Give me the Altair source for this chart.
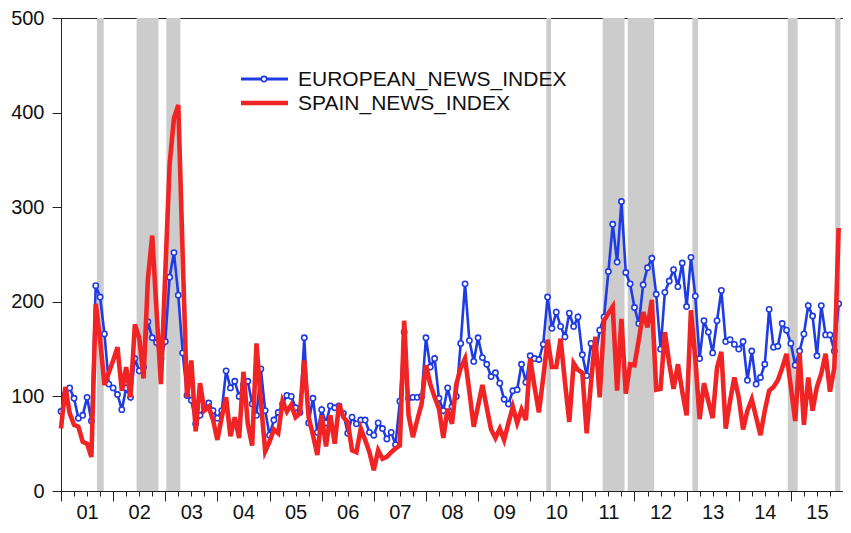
import json
import altair as alt
import pandas as pd

# ---------------- data (monthly, Jan 2001 .. Dec 2015) ----------------
start_year = 2001
series_names = ["EUROPEAN_NEWS_INDEX", "SPAIN_NEWS_INDEX"]

european = [
    84, 102, 109, 98, 77, 80, 99, 74, 217, 205, 166, 113,          # 2001
    109, 102, 86, 109, 99, 140, 127, 131, 179, 162, 157, 140,      # 2002
    158, 226, 252, 207, 146, 101, 96, 71, 80, 88, 93, 85,          # 2003
    77, 85, 127, 109, 116, 100, 112, 116, 92, 80, 129, 85,         # 2004
    59, 75, 83, 92, 101, 100, 88, 83, 162, 72, 98, 62,             # 2005
    86, 72, 90, 88, 90, 82, 61, 78, 71, 75, 75, 62,                # 2006
    59, 72, 66, 55, 62, 49, 95, 168, 98, 99, 99, 100,              # 2007
    162, 131, 140, 98, 85, 109, 89, 100, 156, 219, 159, 137,       # 2008
    162, 141, 134, 121, 125, 114, 97, 92, 106, 107, 134, 115,      # 2009
    143, 140, 139, 155, 205, 172, 189, 174, 163, 188, 174, 184,    # 2010
    144, 122, 156, 141, 170, 184, 232, 282, 242, 306, 231, 219,    # 2011
    194, 177, 218, 236, 246, 208, 150, 210, 222, 234, 216, 241,    # 2012
    195, 247, 206, 140, 180, 168, 146, 180, 212, 158, 160, 155,    # 2013
    150, 158, 117, 148, 113, 120, 134, 192, 152, 153, 177, 170,    # 2014
    156, 133, 148, 166, 196, 185, 143, 196, 165, 165, 148, 198,    # 2015
]

spain = [
    66, 110, 82, 70, 68, 52, 50, 36, 198, 160, 112, 125,           # 2001
    138, 152, 106, 131, 99, 176, 162, 119, 224, 270, 190, 113,     # 2002
    230, 345, 394, 408, 250, 99, 138, 63, 114, 85, 89, 75,         # 2003
    54, 78, 99, 58, 78, 56, 126, 71, 48, 156, 95, 42,              # 2004
    52, 65, 61, 95, 84, 91, 78, 82, 138, 78, 59, 38,               # 2005
    80, 47, 80, 50, 92, 78, 73, 43, 41, 66, 54, 41,                # 2006
    22, 43, 34, 36, 41, 45, 48, 180, 80, 57, 75, 92,               # 2007
    133, 113, 99, 87, 56, 87, 71, 113, 130, 140, 105, 68,          # 2008
    90, 112, 88, 65, 56, 66, 54, 72, 89, 72, 86, 75,               # 2009
    140, 110, 83, 120, 160, 131, 131, 161, 115, 73, 135, 128,      # 2010
    125, 61, 115, 163, 99, 180, 188, 195, 106, 182, 103, 134,      # 2011
    133, 160, 189, 173, 202, 107, 108, 168, 135, 108, 134, 105,    # 2012
    80, 191, 140, 76, 114, 95, 77, 130, 147, 66, 95, 120,          # 2013
    99, 65, 85, 97, 78, 59, 85, 106, 110, 117, 130, 145,           # 2014
    110, 74, 146, 70, 120, 85, 110, 124, 145, 105, 130, 278,       # 2015
]

# shaded episodes (fractional years)
band_start = [2001.69, 2002.45, 2003.02, 2010.31, 2011.39, 2011.87, 2013.11, 2014.94, 2015.85]
band_end = [2001.82, 2002.87, 2003.29, 2010.40, 2011.81, 2012.38, 2013.22, 2015.13, 2015.95]

year_labels = ["01", "02", "03", "04", "05", "06", "07", "08",
               "09", "10", "11", "12", "13", "14", "15"]
y_ticks = [0, 100, 200, 300, 400, 500]

# ---------------- tables ----------------
t = [start_year + m / 12 for m in range(len(european))]
df_eu = pd.DataFrame({"t": t, "v": european})
df_es = pd.DataFrame({"t": t, "v": spain})
df_bands = pd.DataFrame({"s": band_start, "e": band_end})

BLUE = "#1f3be2"
RED = "#f02424"
FONT = "Liberation Sans"

x_ticks = [start_year + q / 4 for q in range(len(year_labels) * 4 + 1)]
label_expr = ("datum.value % 1 === 0.5 ? " + json.dumps(year_labels)
              + "[floor(datum.value) - " + str(start_year) + "] : ''")

x_scale = alt.Scale(domain=[start_year, start_year + len(year_labels)], nice=False, zero=False)
y_scale = alt.Scale(domain=[0, 500], nice=False)

x_axis = alt.Axis(
    values=x_ticks, title=None, grid=False, labelExpr=label_expr,
    tickSize={"condition": {"test": "datum.value % 1 === 0", "value": 10}, "value": 5},
    labelPadding=6, labelFontSize=20, labelFont=FONT, labelColor="#111",
    labelFlush=False, labelOverlap=False, domainColor="#222", tickColor="#222",
)
y_axis = alt.Axis(
    values=y_ticks, title=None, grid=False, tickSize=9, labelPadding=8,
    labelFontSize=20, labelFont=FONT, labelColor="#111",
    domainColor="#222", tickColor="#222",
)

bands = alt.Chart(df_bands).mark_rect(color="#cccccc").encode(
    x=alt.X("s:Q", scale=x_scale, axis=x_axis),
    x2="e:Q",
    y=alt.datum(0, scale=y_scale, axis=y_axis),
    y2=alt.datum(500),
)

eu_line = alt.Chart(df_eu).mark_line(color=BLUE, strokeWidth=2.6).encode(
    x=alt.X("t:Q", scale=x_scale, axis=x_axis),
    y=alt.Y("v:Q", scale=y_scale, axis=y_axis),
)
eu_pts = alt.Chart(df_eu).mark_point(
    shape="circle", filled=True, fill="white", stroke=BLUE, strokeWidth=1.6, size=28, opacity=1
).encode(
    x=alt.X("t:Q", scale=x_scale, axis=x_axis),
    y=alt.Y("v:Q", scale=y_scale, axis=y_axis),
)
es_line = alt.Chart(df_es).mark_line(color=RED, strokeWidth=4.6).encode(
    x=alt.X("t:Q", scale=x_scale, axis=x_axis),
    y=alt.Y("v:Q", scale=y_scale, axis=y_axis),
)

# ---------------- manual legend ----------------
leg_eu = alt.Data(values=[{"name": series_names[0]}])
leg_es = alt.Data(values=[{"name": series_names[1]}])

lg1_line = alt.Chart(leg_eu).mark_rule(color=BLUE, strokeWidth=3).encode(
    x=alt.value(180), x2=alt.value(227), y=alt.value(61))
lg1_pt = alt.Chart(leg_eu).mark_point(
    shape="circle", filled=True, fill="white", stroke=BLUE, strokeWidth=1.6, size=28, opacity=1
).encode(x=alt.value(203), y=alt.value(61))
lg1_txt = alt.Chart(leg_eu).mark_text(
    align="left", baseline="middle", fontSize=21, font=FONT, color="#111"
).encode(x=alt.value(237), y=alt.value(62), text="name:N")

lg2_line = alt.Chart(leg_es).mark_rule(color=RED, strokeWidth=4.6).encode(
    x=alt.value(180), x2=alt.value(227), y=alt.value(85))
lg2_txt = alt.Chart(leg_es).mark_text(
    align="left", baseline="middle", fontSize=21, font=FONT, color="#111"
).encode(x=alt.value(237), y=alt.value(86), text="name:N")

chart = alt.layer(
    bands, eu_line, eu_pts, es_line,
    lg1_line, lg1_pt, lg1_txt, lg2_line, lg2_txt,
).properties(
    width=782, height=473,
    padding={"left": 53, "top": 10, "right": 0, "bottom": 34},
    autosize=alt.AutoSizeParams(type="none"),
    background="white",
).configure_view(stroke="#222", strokeWidth=1)

chart.save("out.html", embed_options={"renderer": "svg", "actions": False})
